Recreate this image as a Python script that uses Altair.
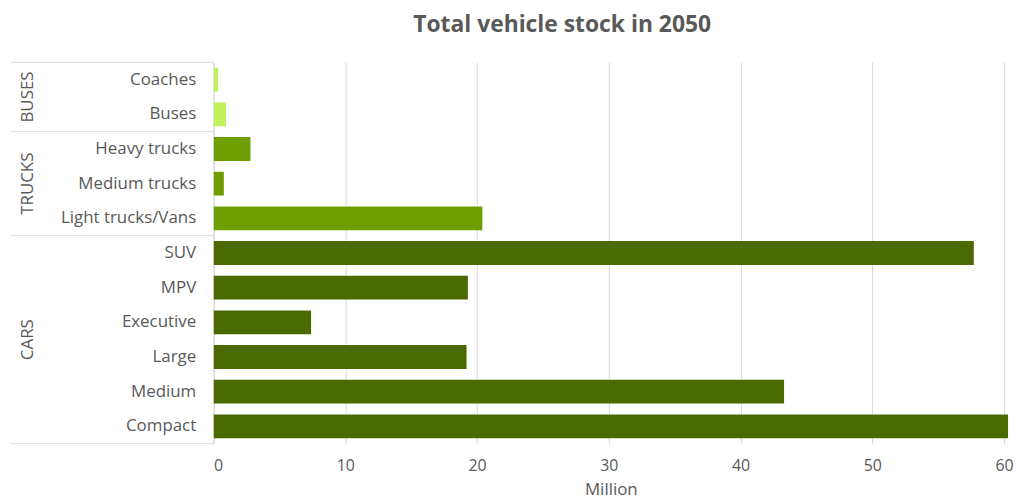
import altair as alt
import pandas as pd

# ---- data ----
categories = ["Coaches", "Buses", "Heavy trucks", "Medium trucks", "Light trucks/Vans",
              "SUV", "MPV", "Executive", "Large", "Medium", "Compact"]
groups = ["BUSES", "BUSES", "TRUCKS", "TRUCKS", "TRUCKS",
          "CARS", "CARS", "CARS", "CARS", "CARS", "CARS"]
values = [0.35, 0.95, 2.8, 0.78, 20.4, 57.7, 19.3, 7.4, 19.2, 43.3, 61.5]
group_names = ["BUSES", "TRUCKS", "CARS"]
group_colors = ["#c2f05a", "#6e9e00", "#4a6900"]
x_ticks = [0, 10, 20, 30, 40, 50, 60]

df = pd.DataFrame({"category": categories, "group": groups, "value": values})

FONT = "Open Sans"
GRAY = "#595959"
LINE = "#d9d9d9"

ysort = categories

bars = alt.Chart(df).mark_bar(size=24, clip=True).encode(
    x=alt.X("value:Q",
            scale=alt.Scale(domain=[0, 60.3], nice=False, zero=True),
            axis=alt.Axis(values=x_ticks, title="Million", grid=True, gridColor=LINE,
                          domain=False, ticks=False, labelPadding=14, labelFontSize=16,
                          labelColor=GRAY, titleColor=GRAY, titleFontSize=17,
                          titleFontWeight="normal", titlePadding=8, labelFont=FONT,
                          titleFont=FONT)),
    y=alt.Y("category:N", sort=ysort,
            scale=alt.Scale(paddingInner=0, paddingOuter=0),
            axis=alt.Axis(title=None, domainColor=LINE, ticks=False, labelPadding=18,
                          labelFontSize=17, labelColor=GRAY, labelFont=FONT,
                          labelLimit=300)),
    color=alt.Color("group:N", scale=alt.Scale(domain=group_names, range=group_colors),
                    legend=None),
)

# group boundaries
first_rows = df.groupby("group", sort=False).head(1)[["category"]]
last_row = df.tail(1)[["category"]]

rule_top = alt.Chart(first_rows).mark_rule(color=LINE, strokeWidth=1).encode(
    y=alt.Y("category:N", sort=ysort, bandPosition=0),
    x=alt.value(-204), x2=alt.value(0),
)
rule_bottom = alt.Chart(last_row).mark_rule(color=LINE, strokeWidth=1).encode(
    y=alt.Y("category:N", sort=ysort, bandPosition=1),
    x=alt.value(-204), x2=alt.value(0),
)

layers = [bars, rule_top, rule_bottom]

# group labels, centred on each group's rows
for g in group_names:
    members = df[df["group"] == g]["category"].tolist()
    n = len(members)
    if n % 2 == 0:
        anchor, bp = members[n // 2], 0
    else:
        anchor, bp = members[n // 2], 0.5
    tdf = pd.DataFrame({"category": [anchor], "group": [g]})
    layers.append(
        alt.Chart(tdf).mark_text(angle=270, align="center", baseline="middle",
                                 font=FONT, fontSize=17, color=GRAY).encode(
            y=alt.Y("category:N", sort=ysort, bandPosition=bp),
            x=alt.value(-187),
            text="group:N",
        )
    )

chart = alt.layer(*layers).properties(
    width=800, height=384,
    padding={"left": 2, "top": 4, "right": 0, "bottom": 0},
    title=alt.TitleParams("Total vehicle stock in 2050", font=FONT, fontSize=23,
                          fontWeight="bold", color=GRAY, anchor="middle",
                          frame="group", dx=-49, offset=25),
).configure_view(stroke=None)

chart.save("out.html", embed_options={"renderer": "svg", "actions": False})
